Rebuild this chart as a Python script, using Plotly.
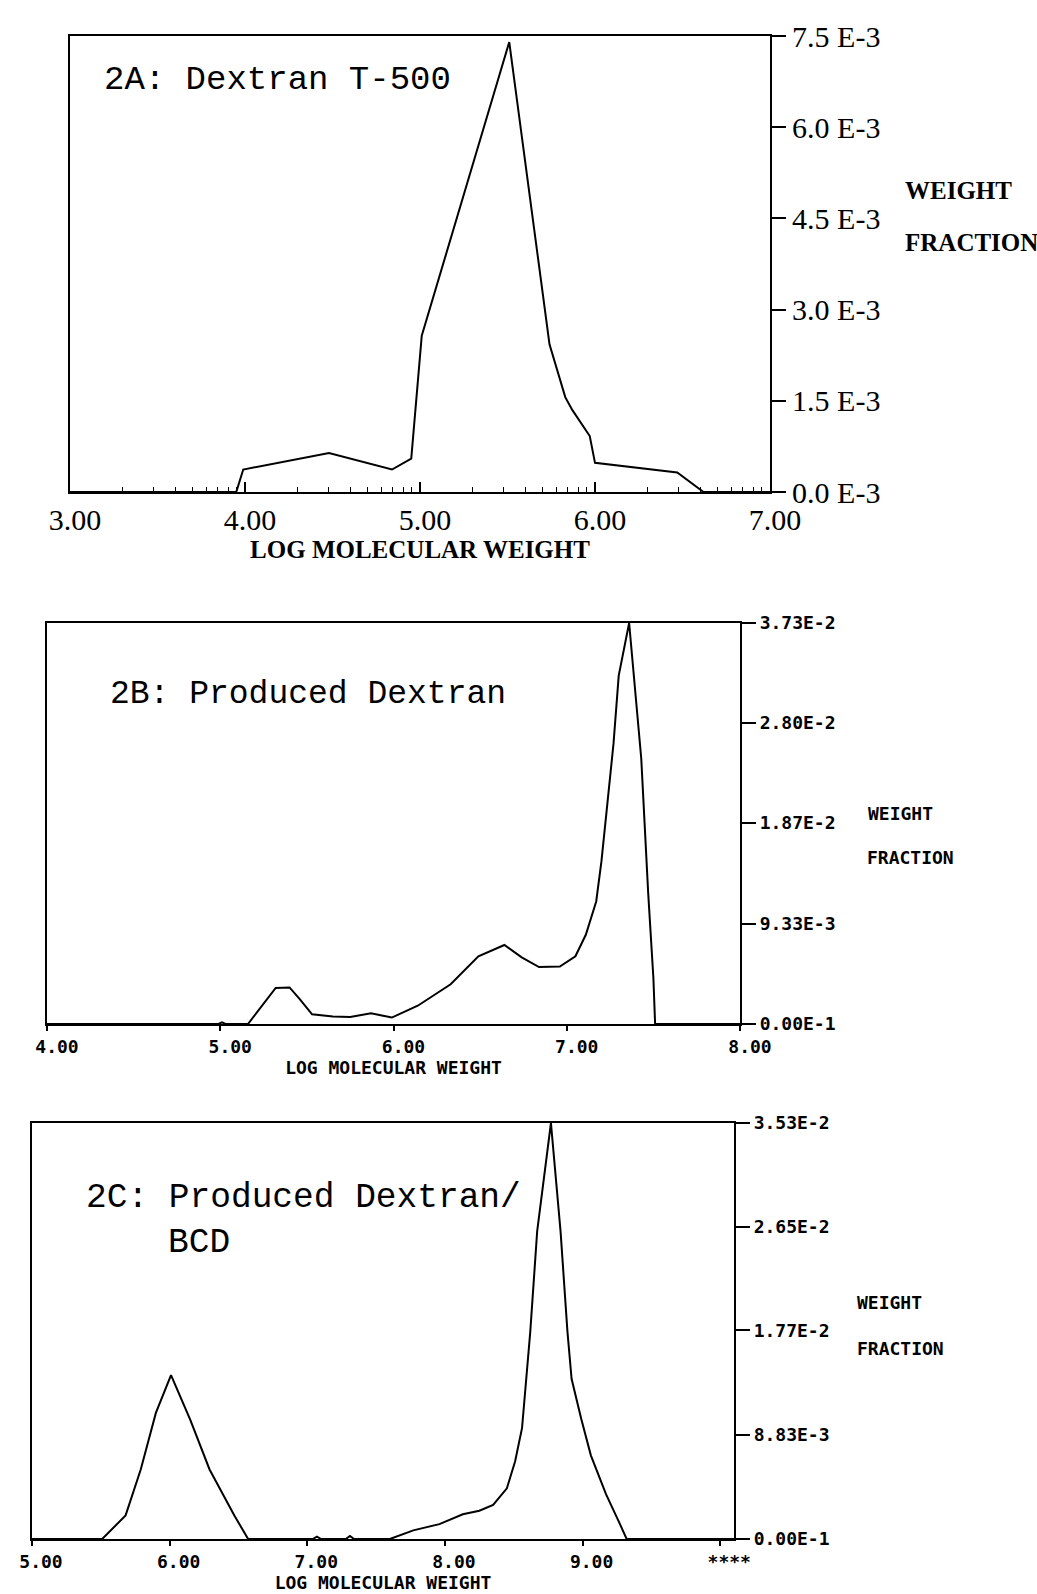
import math
import plotly.graph_objects as go

W, H = 1037, 1594

# ---------------- Panel 2A: Dextran T-500 ----------------
a_logmw = [3.00, 3.95, 3.99, 4.48, 4.84, 4.95, 5.01, 5.51, 5.74, 5.83, 5.87, 5.97, 6.00, 6.47, 6.62, 7.00]
a_wf = [0.0, 0.0, 0.37e-3, 0.64e-3, 0.37e-3, 0.55e-3, 2.57e-3, 7.40e-3, 2.43e-3, 1.56e-3,
        1.35e-3, 0.92e-3, 0.48e-3, 0.32e-3, 0.0, 0.0]
a_xticks = [3, 4, 5, 6, 7]
a_xticklabels = ["3.00", "4.00", "5.00", "6.00", "7.00"]
a_yticks = [0, 1.5e-3, 3.0e-3, 4.5e-3, 6.0e-3, 7.5e-3]
a_yticklabels = ["0.0 E-3", "1.5 E-3", "3.0 E-3", "4.5 E-3", "6.0 E-3", "7.5 E-3"]
a_decades = [3, 4, 5, 6]
a_minor_mult = [2, 3, 4, 5, 6, 7, 8, 9]

# ---------------- Panel 2B: Produced Dextran ----------------
b_logmw = [4.00, 4.99, 5.01, 5.03, 5.16, 5.25, 5.32, 5.40, 5.46, 5.53, 5.65, 5.75, 5.87, 5.99,
           6.14, 6.33, 6.49, 6.64, 6.74, 6.84, 6.96, 7.05, 7.11, 7.17, 7.20, 7.23, 7.27, 7.30,
           7.34, 7.36, 7.43, 7.47, 7.50, 7.51, 8.00]
b_wf = [0.0, 0.0, 0.15e-3, 0.0, 0.0, 1.9e-3, 3.35e-3, 3.4e-3, 2.3e-3, 0.9e-3, 0.7e-3, 0.65e-3,
        1.0e-3, 0.6e-3, 1.7e-3, 3.7e-3, 6.3e-3, 7.35e-3, 6.2e-3, 5.3e-3, 5.35e-3, 6.3e-3,
        8.3e-3, 11.4e-3, 15.1e-3, 19.8e-3, 26.1e-3, 32.4e-3, 35.9e-3, 37.3e-3, 24.7e-3,
        12.2e-3, 4.3e-3, 0.0, 0.0]
b_xticks = [4, 5, 6, 7, 8]
b_xticklabels = ["4.00", "5.00", "6.00", "7.00", "8.00"]
b_yticks = [0, 9.33e-3, 1.87e-2, 2.80e-2, 3.73e-2]
b_yticklabels = ["0.00E-1", "9.33E-3", "1.87E-2", "2.80E-2", "3.73E-2"]

# ---------------- Panel 2C: Produced Dextran/BCD ----------------
c_logmw = [5.00, 5.51, 5.68, 5.79, 5.90, 6.01, 6.15, 6.29, 6.47, 6.57, 7.04, 7.07, 7.10, 7.28,
           7.31, 7.34, 7.60, 7.77, 7.96, 8.13, 8.25, 8.35, 8.45, 8.51, 8.56, 8.59, 8.62, 8.67,
           8.77, 8.84, 8.89, 8.92, 8.99, 9.06, 9.17, 9.27, 9.32, 10.10]
c_wf = [0.0, 0.0, 2.0e-3, 5.9e-3, 10.7e-3, 13.9e-3, 10.1e-3, 5.9e-3, 2.0e-3, 0.0, 0.0, 0.2e-3,
        0.0, 0.0, 0.25e-3, 0.0, 0.0, 0.73e-3, 1.26e-3, 2.1e-3, 2.4e-3, 2.9e-3, 4.3e-3, 6.6e-3,
        9.4e-3, 13.6e-3, 17.6e-3, 26.1e-3, 35.3e-3, 26.1e-3, 17.6e-3, 13.6e-3, 10.2e-3, 7.1e-3,
        3.8e-3, 1.3e-3, 0.0, 0.0]
c_xticks = [5, 6, 7, 8, 9, 10]
c_xticklabels = ["5.00", "6.00", "7.00", "8.00", "9.00", "****"]
c_yticks = [0, 8.83e-3, 1.77e-2, 2.65e-2, 3.53e-2]
c_yticklabels = ["0.00E-1", "8.83E-3", "1.77E-2", "2.65E-2", "3.53E-2"]

SERIF = "Liberation Serif, DejaVu Serif, serif"
MONO = "Liberation Mono, DejaVu Sans Mono, monospace"
PLOT = "DejaVu Sans Mono, Liberation Mono, monospace"

# logarithmic minor tick positions on the log-MW axis of panel A
a_minor = [d + math.log10(m) for d in a_decades for m in a_minor_mult]


def dom_x(l, r):
    return [l / W, r / W]


def dom_y(top, bottom):
    return [1 - bottom / H, 1 - top / H]


fig = go.Figure()
line = dict(color="black", width=2)
fig.add_trace(go.Scatter(x=a_logmw, y=a_wf, mode="lines", line=line, xaxis="x", yaxis="y"))
fig.add_trace(go.Scatter(x=b_logmw, y=b_wf, mode="lines", line=line, xaxis="x2", yaxis="y2"))
fig.add_trace(go.Scatter(x=c_logmw, y=c_wf, mode="lines", line=line, xaxis="x3", yaxis="y3"))

frame = dict(showline=True, mirror=True, linecolor="black", linewidth=2.2,
             showgrid=False, zeroline=False, fixedrange=True, automargin=False)

plot_tick = dict(family=PLOT, size=18, color="black", weight="bold")

fig.update_layout(
    width=W, height=H,
    margin=dict(l=0, r=0, t=0, b=0, pad=0, autoexpand=False),
    paper_bgcolor="white", plot_bgcolor="white",
    showlegend=False,
    # Panel A
    xaxis=dict(**frame, domain=dom_x(70, 770), anchor="y", range=[3, 7],
               tickvals=a_xticks, ticktext=a_xticklabels,
               ticks="inside", ticklen=10, tickwidth=1.5, tickcolor="black",
               minor=dict(ticks="inside", tickvals=a_minor, ticklen=5, tickwidth=1.2,
                          tickcolor="black"),
               ticklabelshift=5,
               tickfont=dict(family=SERIF, size=30, color="black"),
               title=dict(text="LOG MOLECULAR WEIGHT", standoff=3,
                          font=dict(family=SERIF, size=25, color="black", weight="bold"))),
    yaxis=dict(**frame, domain=dom_y(36, 492), anchor="x", side="right", range=[0, 7.5e-3],
               tickvals=a_yticks, ticktext=a_yticklabels,
               ticks="outside", ticklen=14, tickwidth=1.5, tickcolor="black",
               tickfont=dict(family=SERIF, size=30, color="black")),
    # Panel B
    xaxis2=dict(**frame, domain=dom_x(47, 740), anchor="y2", range=[4, 8],
                tickvals=b_xticks, ticktext=b_xticklabels,
                ticks="outside", ticklen=5, tickwidth=1.5, tickcolor="black",
                ticklabelshift=10,
                tickfont=plot_tick,
                title=dict(text="LOG MOLECULAR WEIGHT", standoff=4,
                           font=dict(family=PLOT, size=18, color="black", weight="bold"))),
    yaxis2=dict(**frame, domain=dom_y(623, 1024), anchor="x2", side="right", range=[0, 3.73e-2],
                tickvals=b_yticks, ticktext=b_yticklabels,
                ticks="outside", ticklen=14, tickwidth=2, tickcolor="black",
                tickfont=plot_tick),
    # Panel C
    xaxis3=dict(**frame, domain=dom_x(32, 734), anchor="y3", range=[5, 10.1],
                tickvals=c_xticks, ticktext=c_xticklabels,
                ticks="outside", ticklen=5, tickwidth=1.5, tickcolor="black",
                ticklabelshift=9,
                tickfont=plot_tick,
                title=dict(text="LOG MOLECULAR WEIGHT", standoff=4,
                           font=dict(family=PLOT, size=18, color="black", weight="bold"))),
    yaxis3=dict(**frame, domain=dom_y(1123, 1539), anchor="x3", side="right", range=[0, 3.53e-2],
                tickvals=c_yticks, ticktext=c_yticklabels,
                ticks="outside", ticklen=14, tickwidth=2, tickcolor="black",
                tickfont=plot_tick),
)


def note(text, x, y, family, size, weight="normal"):
    fig.add_annotation(text=text, xref="paper", yref="paper", x=x / W, y=1 - y / H,
                       xanchor="left", yanchor="middle", showarrow=False,
                       font=dict(family=family, size=size, color="black", weight=weight))


# panel titles
note("2A: Dextran T-500", 102, 80, MONO, 34)
note("2B: Produced Dextran", 108, 694, MONO, 33)
note("2C: Produced Dextran/", 84, 1197, MONO, 34.5)
note("BCD", 166, 1242, MONO, 34.5)

# right-hand axis titles
note("WEIGHT", 903, 190, SERIF, 25, "bold")
note("FRACTION", 903, 242, SERIF, 25, "bold")
note("WEIGHT", 866, 813, PLOT, 18, "bold")
note("FRACTION", 865, 857, PLOT, 18, "bold")
note("WEIGHT", 855, 1302, PLOT, 18, "bold")
note("FRACTION", 855, 1348, PLOT, 18, "bold")

fig.write_html("out.html")
